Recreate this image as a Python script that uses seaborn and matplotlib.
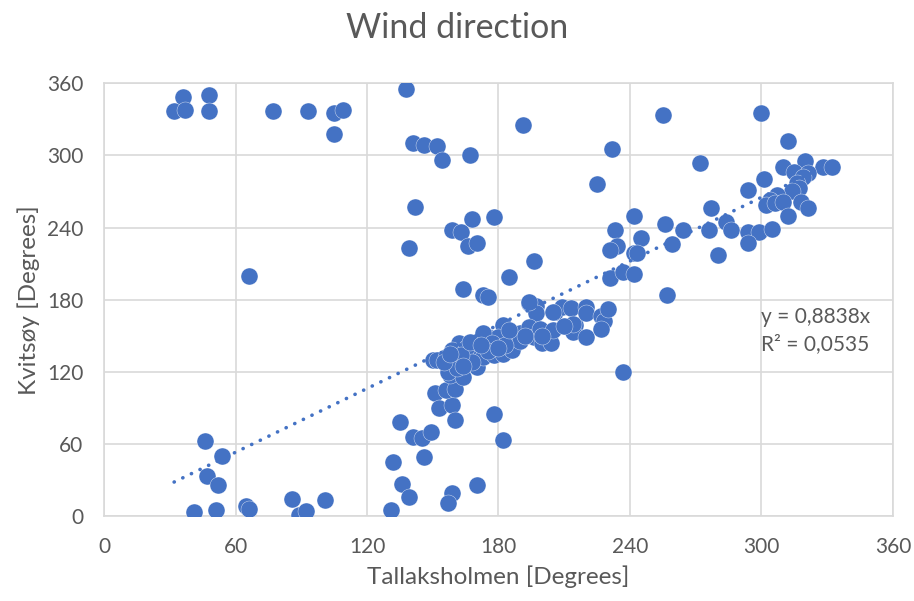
import matplotlib
matplotlib.use("Agg")
import matplotlib.pyplot as plt
import seaborn as sns
import pandas as pd
import numpy as np

# Data (degrees)
tallaksholmen = [
    36, 32, 37, 48, 48, 77, 93, 105, 109, 105, 66, 138,
    141, 146, 152, 154, 167, 191, 232, 225, 142, 139, 159, 163, 168, 178, 166, 170, 196, 185, 164, 173, 175,
    242, 233, 234, 231, 242, 245, 231, 237, 242, 255, 300, 312, 272, 320, 310, 328, 332, 315, 321, 319, 316,
    301, 317, 314, 294, 307, 304, 302, 306, 310, 318, 321, 312, 277, 256, 264, 276, 284, 286, 294, 299, 305,
    294, 259, 243, 280, 257, 237,
    46, 54, 47, 52, 41, 51, 65, 66, 86, 89, 92, 101, 135, 132, 136, 139, 131, 141, 145, 149, 146, 159, 157,
    170, 178, 182, 151, 153, 159, 160, 156, 160, 158, 164,
    150, 152, 156, 162, 159, 161, 157, 161, 166, 170, 170, 173, 175, 178, 182, 182, 180, 187, 188, 190, 194,
    197, 197, 194, 196, 200, 199, 204, 205, 206, 209, 213, 215, 214, 220, 220, 220, 227, 228, 227, 230, 173,
    177, 186, 194, 205, 214, 190, 165, 168, 175, 183, 192, 200, 210, 185, 163, 167, 172, 180, 155, 164, 158,
]
kvitsoy = [
    349, 337, 338, 350, 337, 337, 337, 335, 338, 318, 200, 355,
    310, 309, 308, 296, 300, 325, 305, 276, 257, 223, 238, 236, 247, 249, 225, 227, 212, 199, 189, 184, 182,
    250, 238, 225, 221, 219, 231, 198, 203, 201, 334, 335, 312, 294, 295, 290, 290, 290, 286, 285, 282, 277,
    280, 273, 270, 271, 267, 263, 259, 260, 261, 261, 256, 250, 256, 243, 238, 238, 245, 238, 236, 236, 239,
    227, 226, 219, 217, 184, 120,
    62, 50, 33, 26, 3, 5, 8, 6, 14, 1, 4, 13, 78, 45, 27, 16, 5, 66, 65, 70, 49, 19, 11,
    26, 85, 63, 102, 90, 92, 80, 105, 106, 117, 116,
    130, 130, 132, 144, 138, 128, 120, 123, 132, 139, 124, 132, 149, 134, 159, 135, 149, 149, 144, 152, 177,
    175, 169, 157, 149, 144, 156, 144, 155, 170, 174, 173, 159, 153, 174, 169, 149, 166, 162, 156, 172, 152,
    144, 138, 178, 170, 160, 146, 140, 128, 137, 142, 150, 150, 158, 155, 134, 145, 142, 140, 128, 125, 135,
]
slope = 0.8838
equation = "y = 0,8838x\nR² = 0,0535"
x_ticks = [0, 60, 120, 180, 240, 300, 360]
y_ticks = [0, 60, 120, 180, 240, 300, 360]

df = pd.DataFrame({"Tallaksholmen": tallaksholmen, "Kvitsoy": kvitsoy})

sns.set_style("white")
plt.rcParams["font.family"] = ["Lato", "DejaVu Sans"]

blue = "#4472C4"
grey_text = "#595959"
grid_c = "#D9D9D9"

fig = plt.figure(figsize=(9.14, 6.01), dpi=100)
ax = fig.add_axes([0.1138, 0.1414, 0.8632, 0.72])

ax.grid(True, color=grid_c, linewidth=1.2, zorder=0)
ax.set_axisbelow(True)

sns.scatterplot(data=df, x="Tallaksholmen", y="Kvitsoy", ax=ax, color=blue,
                s=150, edgecolor="white", linewidth=0.25, zorder=3, legend=False)

xs = np.array([min(tallaksholmen), max(tallaksholmen)])
ax.plot(xs, slope * xs, color=blue, linewidth=2.6, linestyle=(0, (0.05, 2.6)),
        dash_capstyle="round", zorder=4)

ax.set_xlim(0, 360)
ax.set_ylim(0, 360)
ax.set_xticks(x_ticks)
ax.set_yticks(y_ticks)
ax.tick_params(axis="both", length=0, labelsize=15, labelcolor=grey_text, pad=15)

for s in ax.spines.values():
    s.set_color(grid_c)
    s.set_linewidth(1.2)

ax.set_xlabel("Tallaksholmen [Degrees]", fontsize=17.5, color=grey_text, labelpad=6)
ax.set_ylabel("Kvitsøy [Degrees]", fontsize=17.5, color=grey_text, labelpad=5)
fig.text(0.5, 0.953, "Wind direction", fontsize=24.5, color=grey_text,
         ha="center", va="center")

ax.text(300, 174, equation, fontsize=15, color=grey_text, va="top", ha="left",
        linespacing=1.45, zorder=5)

fig.savefig("out.png", dpi=100)
